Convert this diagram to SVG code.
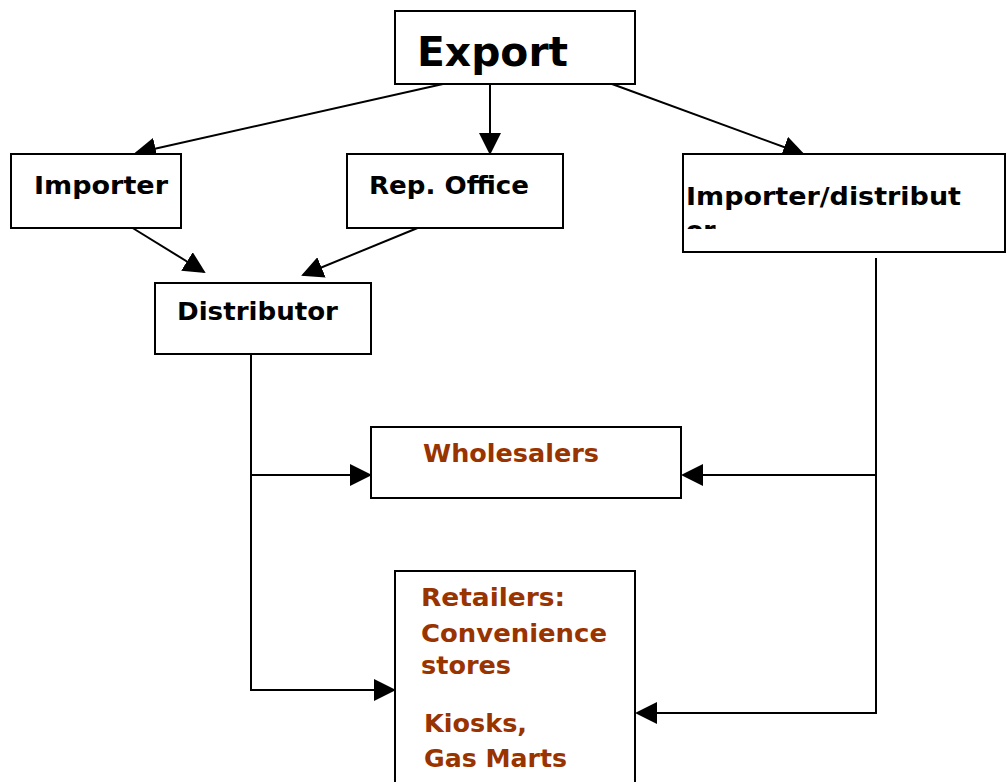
<svg xmlns="http://www.w3.org/2000/svg" width="1007" height="782" viewBox="0 0 1007 782">
<style>
.box{fill:#fff;stroke:#000;stroke-width:2}
.t{font-family:"DejaVu Sans",Verdana,sans-serif;font-weight:bold;font-size:25px;fill:#000}
.big{font-size:40px}
.b{fill:#993300}
.c{fill:none;stroke:#000;stroke-width:2}
</style>
<defs>
<marker id="ah" markerUnits="userSpaceOnUse" markerWidth="22" markerHeight="22" refX="20" refY="11" orient="auto" viewBox="0 0 22 22">
<path d="M0,0 L22,11 L0,22 Z" fill="#000"/>
</marker>
<clipPath id="clipOr"><rect x="683" y="154" width="324" height="75"/></clipPath>
</defs>
<rect width="1007" height="782" fill="#fff"/>
<g id="connectors">
<line class="c" x1="443" y1="84" x2="136" y2="153" marker-end="url(#ah)"/>
<line class="c" x1="490" y1="84" x2="490" y2="153" marker-end="url(#ah)"/>
<line class="c" x1="612" y1="84" x2="803" y2="154" marker-end="url(#ah)"/>
<line class="c" x1="131" y1="227" x2="204" y2="272" marker-end="url(#ah)"/>
<line class="c" x1="420" y1="227" x2="303" y2="275" marker-end="url(#ah)"/>
<polyline class="c" points="251,354 251,690 394,690" marker-end="url(#ah)"/>
<line class="c" x1="251" y1="475" x2="370" y2="475" marker-end="url(#ah)"/>
<polyline class="c" points="876,258 876,713 637,713" marker-end="url(#ah)"/>
<line class="c" x1="876" y1="475" x2="683" y2="475" marker-end="url(#ah)"/>
</g>
<g id="export">
<rect class="box" x="395" y="11" width="240" height="73"/>
<text class="t big" x="417" y="66" textLength="151" lengthAdjust="spacingAndGlyphs">Export</text>
</g>
<g id="importer">
<rect class="box" x="11" y="154" width="170" height="74"/>
<text class="t" x="34" y="194" textLength="134" lengthAdjust="spacingAndGlyphs">Importer</text>
</g>
<g id="repoffice">
<rect class="box" x="347" y="154" width="216" height="74"/>
<text class="t" x="369" y="194" textLength="160" lengthAdjust="spacingAndGlyphs">Rep. Office</text>
</g>
<g id="importerdistributor">
<rect class="box" x="683" y="154" width="322" height="98"/>
<text class="t" x="686" y="205" textLength="275" lengthAdjust="spacingAndGlyphs">Importer/distribut</text>
<text class="t" x="686" y="239" clip-path="url(#clipOr)">or</text>
</g>
<g id="distributor">
<rect class="box" x="155" y="283" width="216" height="71"/>
<text class="t" x="177" y="320" textLength="161" lengthAdjust="spacingAndGlyphs">Distributor</text>
</g>
<g id="wholesalers">
<rect class="box" x="371" y="427" width="310" height="71"/>
<text class="t b" x="423" y="462" textLength="176" lengthAdjust="spacingAndGlyphs">Wholesalers</text>
</g>
<g id="retailers">
<rect class="box" x="395" y="571" width="240" height="215"/>
<text class="t b" x="421" y="606" textLength="144" lengthAdjust="spacingAndGlyphs">Retailers:</text>
<text class="t b" x="421" y="642" textLength="186" lengthAdjust="spacingAndGlyphs">Convenience</text>
<text class="t b" x="421" y="674" textLength="90" lengthAdjust="spacingAndGlyphs">stores</text>
<text class="t b" x="424" y="732" textLength="103" lengthAdjust="spacingAndGlyphs">Kiosks,</text>
<text class="t b" x="424" y="767" textLength="143" lengthAdjust="spacingAndGlyphs">Gas Marts</text>
</g>
</svg>
